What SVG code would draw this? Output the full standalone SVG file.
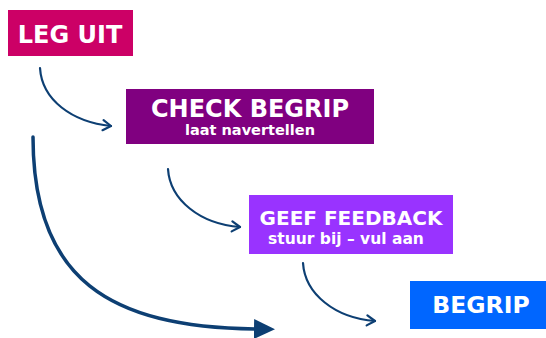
<svg xmlns="http://www.w3.org/2000/svg" width="546" height="338" viewBox="0 0 546 338">
<style>
.t{font-family:"DejaVu Sans","Liberation Sans",sans-serif;font-weight:bold;fill:#fff;text-anchor:middle}
.c{fill:none;stroke:#0D3F73;stroke-linecap:round}
</style>
<defs>
<marker id="open" markerUnits="userSpaceOnUse" markerWidth="16" markerHeight="16" refX="12" refY="8" orient="auto" viewBox="0 0 16 16">
<path d="M4,3 L12,8 L4,13" fill="none" stroke="#0D3F73" stroke-width="2.2" stroke-linecap="round" stroke-linejoin="round"/>
</marker>
<marker id="solid" markerUnits="userSpaceOnUse" markerWidth="24" markerHeight="24" refX="1" refY="12" orient="auto" viewBox="0 0 24 24">
<path d="M0,2 L21,12 L0,22 Z" fill="#0D3F73"/>
</marker>
</defs>
<g id="connectors">
<path class="c" stroke-width="2.2" d="M40,68 C42,100 72,122 111,126" marker-end="url(#open)"/>
<path class="c" stroke-width="2.2" d="M168,169 C170,200 200,224 240,227" marker-end="url(#open)"/>
<path class="c" stroke-width="2.2" d="M303,263 C305,294 335,318 375,321" marker-end="url(#open)"/>
<path class="c" stroke-width="3.5" stroke-linecap="butt" d="M33,137 C33,280 110,327 255,329" marker-end="url(#solid)"/>
</g>
<g id="leg-uit">
<rect x="8" y="10" width="125" height="46" fill="#CC0066"/>
<text class="t" x="70" y="43" font-size="24">LEG UIT</text>
</g>
<g id="check-begrip">
<rect x="126" y="89" width="248" height="55" fill="#800080"/>
<text class="t" x="250" y="117" font-size="24">CHECK BEGRIP</text>
<text class="t" x="250" y="135" font-size="14.5">laat navertellen</text>
</g>
<g id="geef-feedback">
<rect x="249" y="195" width="204" height="59" fill="#9933FF"/>
<text class="t" x="351" y="225" font-size="20">GEEF FEEDBACK</text>
<text class="t" x="346" y="244" font-size="15.5">stuur bij – vul aan</text>
</g>
<g id="begrip">
<rect x="410" y="281" width="136" height="48" fill="#0066FF"/>
<text class="t" x="481" y="313" font-size="23.5">BEGRIP</text>
</g>
</svg>
